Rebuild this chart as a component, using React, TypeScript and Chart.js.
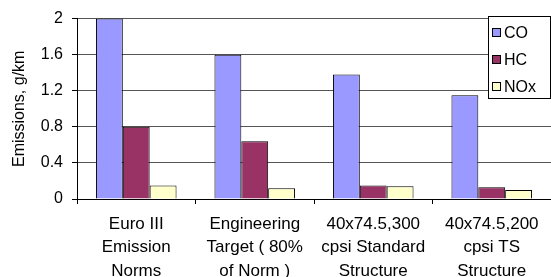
import React, { useEffect, useRef } from "react";
import { Chart, registerables } from "chart.js";

Chart.register(...registerables);

const categories: string[][] = [
  ["Euro III", "Emission", "Norms"],
  ["Engineering", "Target ( 80%", "of Norm )"],
  ["40x74.5,300", "cpsi Standard", "Structure"],
  ["40x74.5,200", "cpsi TS", "Structure"],
];
const coValues = [2.0, 1.6, 1.38, 1.15];
const hcValues = [0.8, 0.64, 0.15, 0.13];
const noxValues = [0.15, 0.12, 0.14, 0.1];
const seriesNames = ["CO", "HC", "NOx"];
const seriesColors = ["#9999FF", "#993366", "#FFFFCC"];

const FONT = "Arial, 'Liberation Sans', sans-serif";

const boxLegend = {
  id: "boxLegend",
  afterDraw(chart: any) {
    const ctx = chart.ctx;
    const ca = chart.chartArea;
    const x0 = 488.5;
    const y0 = 16.5;
    const w = ca.right - x0 - 0.5;
    const h = 82;
    ctx.save();
    ctx.fillStyle = "#ffffff";
    ctx.fillRect(x0, y0, w, h);
    ctx.strokeStyle = "#000000";
    ctx.lineWidth = 1;
    ctx.strokeRect(x0, y0, w, h);
    ctx.font = "16px " + FONT;
    ctx.textBaseline = "middle";
    chart.data.datasets.forEach((ds: any, i: number) => {
      const cy = 33 + i * 27;
      ctx.fillStyle = ds.backgroundColor;
      ctx.fillRect(492.5, cy - 4.5, 8, 8);
      ctx.strokeStyle = "#000";
      ctx.strokeRect(492.5, cy - 4.5, 8, 8);
      ctx.fillStyle = "#000";
      ctx.fillText(ds.label, 504, cy + 1);
    });
    ctx.restore();
  },
};

export default function App() {
  const ref = useRef<HTMLCanvasElement | null>(null);
  useEffect(() => {
    if (!ref.current) return;
    const chart = new Chart(ref.current, {
      type: "bar",
      data: {
        labels: categories,
        datasets: [coValues, hcValues, noxValues].map((d, i) => ({
          label: seriesNames[i],
          data: d,
          backgroundColor: seriesColors[i],
          borderColor: "#000000",
          borderWidth: 1,
          categoryPercentage: 0.68,
          barPercentage: 1,
        })),
      },
      options: {
        animation: false,
        responsive: false,
        maintainAspectRatio: false,
        layout: { padding: { top: 15, right: 0, left: 0, bottom: 0 } },
        plugins: { legend: { display: false }, tooltip: { enabled: false } },
        scales: {
          x: {
            grid: {
              offset: true,
              drawOnChartArea: false,
              drawTicks: true,
              tickLength: 5,
              color: "#000",
            },
            border: { display: true, color: "#000", width: 1 },
            ticks: {
              color: "#000",
              font: { family: FONT, size: 17, lineHeight: 1.4 },
              maxRotation: 0,
              autoSkip: false,
              padding: 8,
            },
            afterFit: (s: any) => {
              s.height = 78;
            },
          },
          y: {
            min: 0,
            max: 2,
            ticks: {
              stepSize: 0.4,
              color: "#000",
              font: { family: FONT, size: 16 },
              padding: 9,
              callback: (v: any) => String(Math.round(Number(v) * 10) / 10),
            },
            grid: {
              color: "#555555",
              tickLength: 5,
              tickColor: "#000",
            },
            border: { display: true, color: "#000", width: 1 },
            title: {
              display: true,
              text: "Emissions, g/km",
              color: "#000",
              font: { family: FONT, size: 16 },
              padding: { top: 10, bottom: 0 },
            },
            afterFit: (s: any) => {
              s.width = 77;
            },
          },
        },
      },
      plugins: [boxLegend],
    });
    return () => chart.destroy();
  }, []);
  return (
    <div style={{ position: "fixed", left: 0, top: 0, width: 551, height: 277, background: "#fff" }}>
      <canvas ref={ref} width={551} height={277} style={{ display: "block" }} />
    </div>
  );
}
